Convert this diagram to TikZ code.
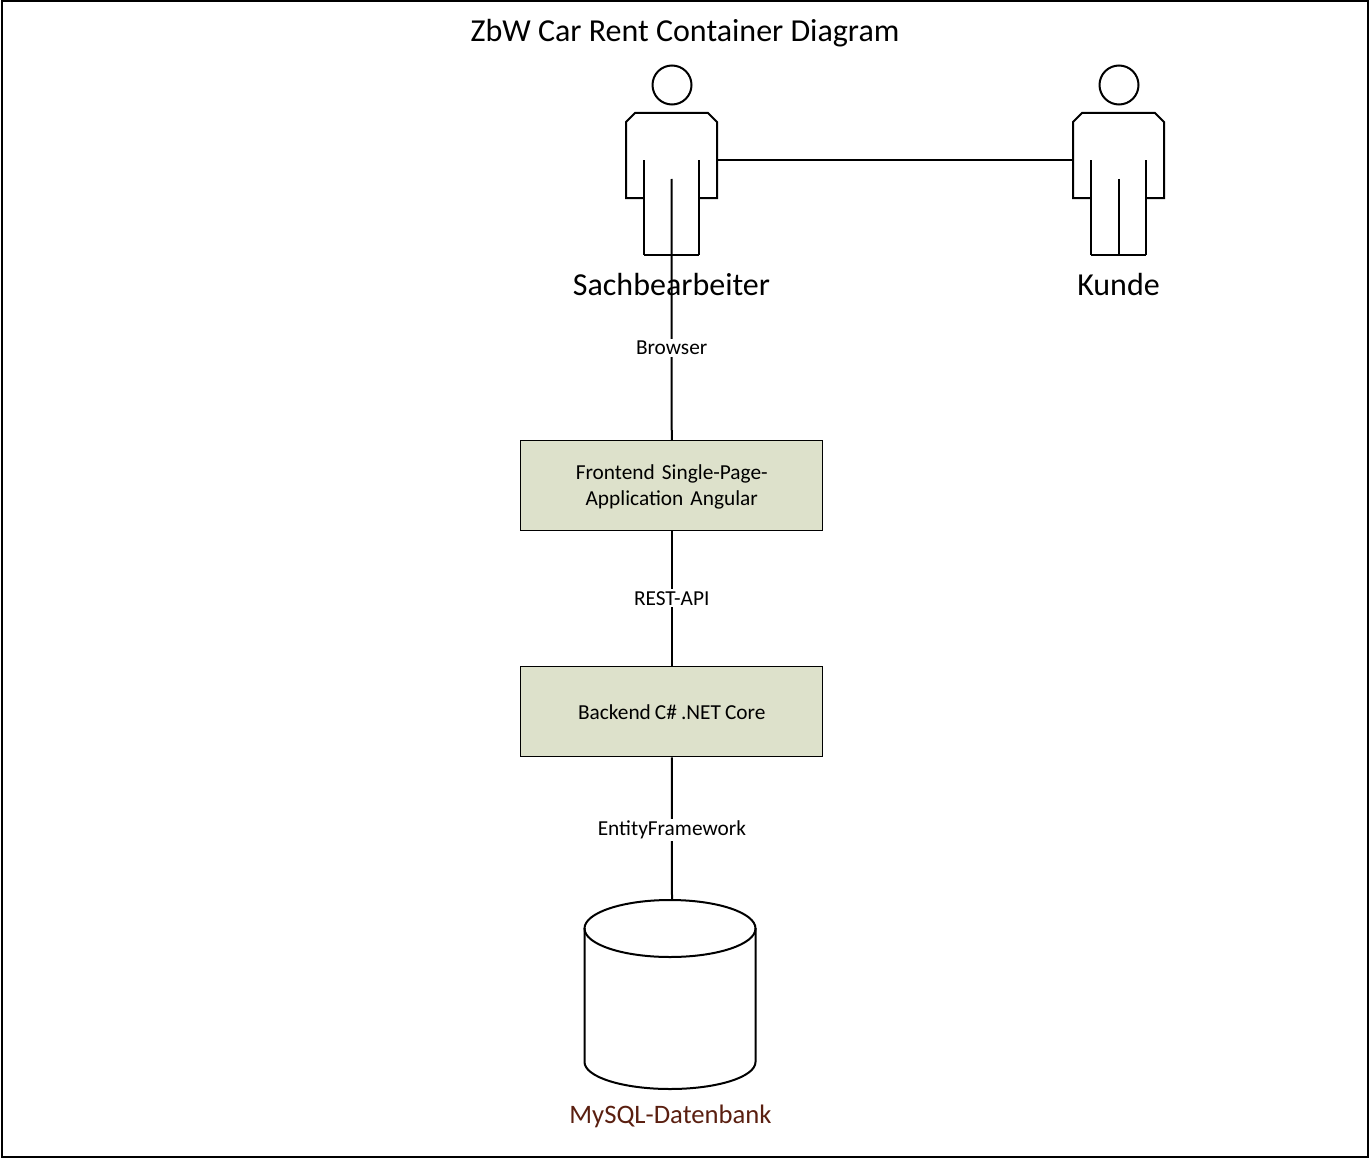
\documentclass[tikz,border=0pt]{standalone}
\usepackage{fontspec}
\setmainfont{Carlito}
\definecolor{boxfill}{HTML}{DDE1CB}
\definecolor{dbtext}{HTML}{5A1F10}
\tikzset{
  x=0.75pt,y=-0.75pt,
  thick line/.style={line width=1.5pt,black},
  container/.style={draw=black,line width=0.75pt,fill=boxfill,minimum width=226.5pt,inner sep=0pt,align=center,font=\fontsize{16}{19.5}\selectfont,text width=170pt},
  box text/.style={inner sep=0pt,align=center,font=\fontsize{16}{19.5}\selectfont,text width=170pt},
  link label/.style={fill=white,inner sep=1.5pt,font=\fontsize{16}{18}\selectfont},
  big label/.style={font=\fontsize{24}{28}\selectfont},
  actor/.pic={
    \draw[thick line] (0.5,-75) circle[radius=19.5];
    \draw[thick line] (-27.5,94.5) -- (-27.5,0) (27.5,94.5) -- (27.5,0);
    \draw[thick line] (-27.5,38) -- (-45.5,38) -- (-45.5,-38) -- (-36.5,-47) -- (36.5,-47) -- (45.5,-38) -- (45.5,38) -- (27.5,38);
    \draw[thick line] (-27.5,94.5) -- (27.5,94.5);
    \coordinate (-center) at (0,19);
    \coordinate (-right) at (45.5,0);
    \coordinate (-left) at (-45.5,0);
  }
}
\begin{document}
\begin{tikzpicture}
\useasboundingbox (0,0) rectangle (1370,1159);
\draw[thick line] (2,1.5) rectangle (1367.5,1157);
\node[big label] (title) at (685,33) {ZbW Car Rent Container Diagram};

\pic (sach) at (671.5,160) {actor};
\pic (kunde) at (1118.5,160) {actor};
\draw[thick line] (sach-right) -- (kunde-left);
\draw[thick line] (kunde-center) -- (1118.5,254.5);

\node[container,minimum height=67.5pt] (front) at (671.75,485.5) {};
\node[box text] (frontt) at (671.75,487.3) {Frontend Single-Page-\\Application Angular};
\node[container,minimum height=67.9pt] (back) at (671.75,711.7) {\spaceskip=0.19em Backend C\# .NET Core};

% cylinder
\coordinate (db) at (672,900);
\draw[thick line,fill=white] (584.5,928) -- (584.5,1062) arc[start angle=180,end angle=0,x radius=85.5,y radius=27] -- (755.5,928);
\draw[thick line] (670,928.5) ellipse[x radius=85.5,y radius=28.5];

\draw[thick line] (sach-center) -- (front.north) node[pos=0.648,link label] (browser) {Browser};
\draw[thick line] (front.south) -- (back.north) node[midway,link label] (rest) {REST-API};
\draw[thick line] (back.south) -- (db) node[pos=0.507,link label] (ef) {EntityFramework};

\node[big label] (sachl) at (671.5,285) {Sachbearbeiter};
\node[big label] (kundel) at (1118.5,285) {Kunde};
\node[text=dbtext,font=\fontsize{20}{24}\selectfont] (dbl) at (670.5,1116) {MySQL-Datenbank};
\end{tikzpicture}
\end{document}
